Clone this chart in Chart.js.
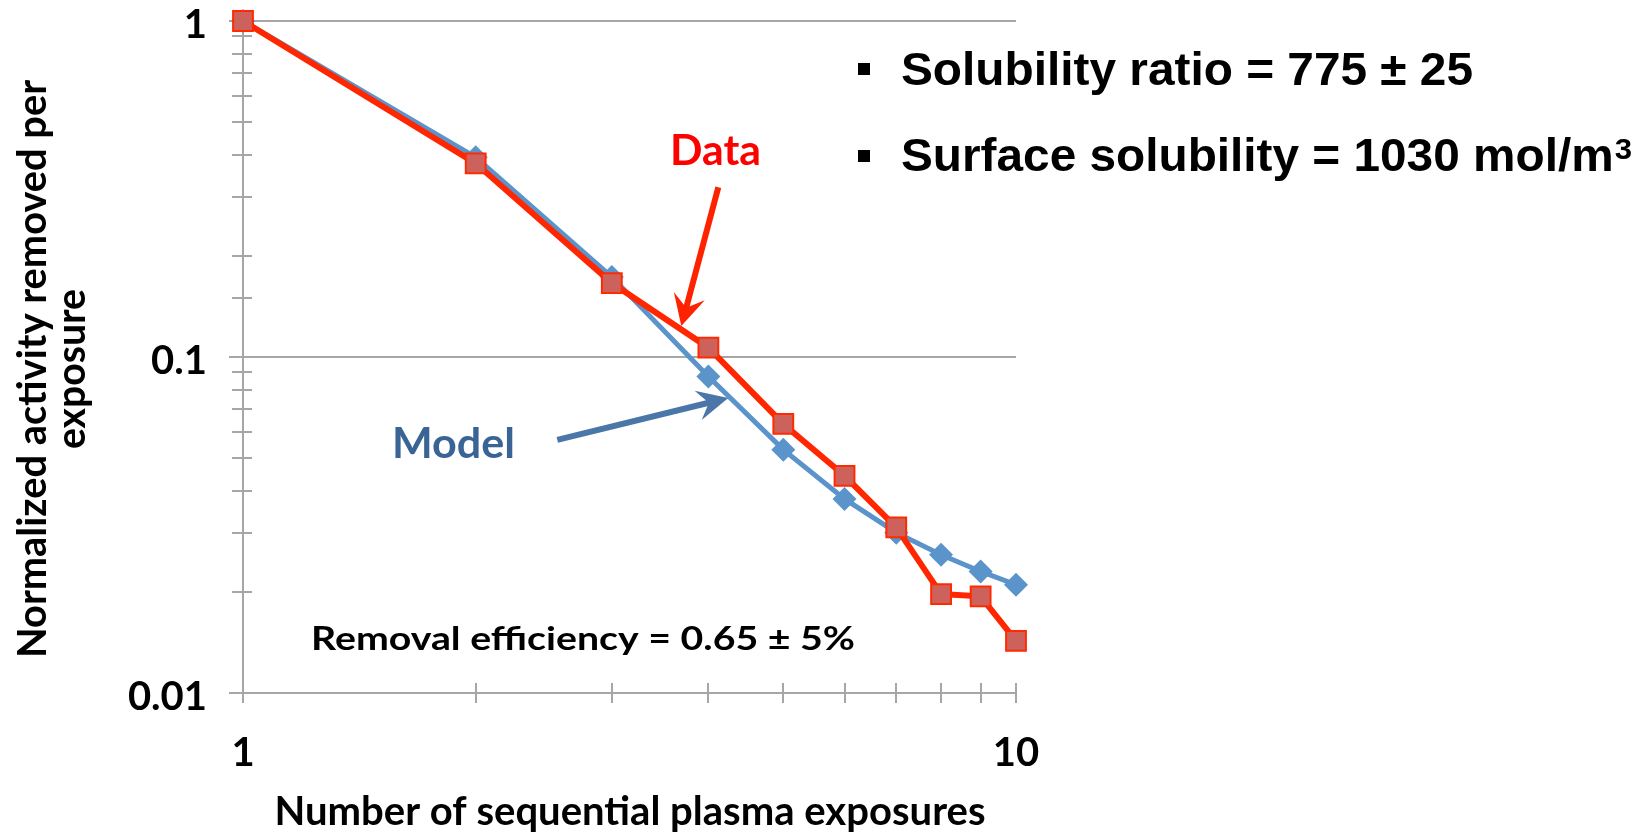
<!DOCTYPE html>
<html>
<head>
<meta charset="utf-8">
<script src="https://cdn.jsdelivr.net/npm/chart.js@4.4.1/dist/chart.umd.min.js"></script>
<style>
html,body{margin:0;padding:0;background:#ffffff;}
canvas{display:block;}
</style>
</head>
<body>
<canvas id="c" width="1648" height="833"></canvas>
<script>
// ---------------- data ----------------
const exposures   = [1, 2, 3, 4, 5, 6, 7, 8, 9, 10];
const dataValues  = [1.0, 0.377, 0.166, 0.1066, 0.0632, 0.0443, 0.0311, 0.0197, 0.0194, 0.0143];
const modelValues = [1.0, 0.393, 0.173, 0.0875, 0.053, 0.0378, 0.0300, 0.0258, 0.0230, 0.0210];
const seriesNames = ['Data', 'Model'];
const xTickLabels = [1, 10];
const yTickLabels = [0.01, 0.1, 1];

// ---------------- styles / layout ----------------
const GRID = '#a6a6a6';
const CAL = 'Lato, "Open Sans", sans-serif';
const ARL = '"Liberation Sans", Arial, sans-serif';
const isDecade = v => Math.abs(Math.log10(v) - Math.round(Math.log10(v))) < 1e-6;
const inList = (list, v) => list.some(t => Math.abs(t - v) / t < 1e-6);

// annotation arrows anchored in data space
const arrows = [
  {from: {x: 4.12, y: 0.32},  to: {x: 3.69, y: 0.1236}, color: '#ff2200', width: 6, head: 31, half: 16, notch: 12},
  {from: {x: 2.55, y: 0.0567}, to: {x: 4.244, y: 0.0755}, color: '#4a76a8', width: 6, head: 31, half: 15, notch: 11}
];

// annotation texts (pixel placement)
const notes = [
  {text: 'Data', x: 670, y: 165, w: 91, font: 'bold 42px ' + CAL, color: '#ff0000'},
  {text: 'Model', x: 392, y: 458, w: 123, font: 'bold 42px ' + CAL, color: '#3b6496'},
  {text: 'Removal efficiency = 0.65 \u00b1 5%', x: 311, y: 650, w: 544, font: 'bold 33px ' + CAL, color: '#000000'},
  {text: 'Solubility ratio = 775 \u00b1 25', x: 901, y: 85, w: 572, font: 'bold 46px ' + ARL, color: '#000000'}
];
const bullets = [{x: 858, y: 63, s: 12}, {x: 858, y: 150, s: 12}];

function fitText(ctx, text, x, y, font, color, w, align) {
  ctx.save();
  ctx.font = font;
  ctx.fillStyle = color;
  ctx.textBaseline = 'alphabetic';
  ctx.textAlign = 'left';
  const nat = ctx.measureText(text).width;
  const sx = w / nat;
  ctx.translate(align === 'center' ? x - w / 2 : x, y);
  ctx.scale(sx, 1);
  ctx.fillText(text, 0, 0);
  ctx.restore();
}

function drawArrow(ctx, p0, p1, a) {
  const dx = p1.x - p0.x, dy = p1.y - p0.y;
  const len = Math.hypot(dx, dy);
  const ux = dx / len, uy = dy / len, nx = -uy, ny = ux;
  const bx = p1.x - ux * a.head, by = p1.y - uy * a.head;
  const mx = p1.x - ux * (a.head - a.notch), my = p1.y - uy * (a.head - a.notch);
  ctx.save();
  ctx.strokeStyle = a.color; ctx.fillStyle = a.color;
  ctx.lineWidth = a.width; ctx.lineCap = 'butt';
  ctx.beginPath(); ctx.moveTo(p0.x, p0.y); ctx.lineTo(mx + ux * 2, my + uy * 2); ctx.stroke();
  ctx.beginPath();
  ctx.moveTo(p1.x, p1.y);
  ctx.lineTo(bx + nx * a.half, by + ny * a.half);
  ctx.lineTo(mx, my);
  ctx.lineTo(bx - nx * a.half, by - ny * a.half);
  ctx.closePath(); ctx.fill();
  ctx.restore();
}

const overlay = {
  id: 'overlay',
  beforeDatasetsDraw(chart) {
    const {ctx, scales: {x, y}} = chart;
    ctx.save();
    ctx.strokeStyle = GRID; ctx.lineWidth = 2;
    const ax = x.left;
    y.ticks.forEach(t => {
      const py = Math.round(y.getPixelForValue(t.value));
      const major = isDecade(t.value);
      ctx.beginPath(); ctx.moveTo(ax - (major ? 14 : 11), py); ctx.lineTo(ax + 9, py); ctx.stroke();
    });
    const ay = y.bottom;
    x.ticks.forEach(t => {
      const px = Math.round(x.getPixelForValue(t.value));
      ctx.beginPath(); ctx.moveTo(px, ay - 10); ctx.lineTo(px, ay + 10); ctx.stroke();
    });
    ctx.restore();
  },
  afterDatasetsDraw(chart) {
    const {ctx, scales: {x, y}} = chart;
    arrows.forEach(a => {
      const p0 = {x: x.getPixelForValue(a.from.x), y: y.getPixelForValue(a.from.y)};
      const p1 = {x: x.getPixelForValue(a.to.x), y: y.getPixelForValue(a.to.y)};
      drawArrow(ctx, p0, p1, a);
    });
    notes.forEach(n => fitText(ctx, n.text, n.x, n.y, n.font, n.color, n.w));
    // bullets
    ctx.save(); ctx.fillStyle = '#000';
    bullets.forEach(b => ctx.fillRect(b.x, b.y, b.s, b.s));
    ctx.restore();
    // second bullet line with superscript
    ctx.save();
    const mainTxt = 'Surface solubility = 1030 mol/m', supTxt = '3';
    const fMain = 'bold 46px ' + ARL, fSup = 'bold 30px ' + ARL;
    ctx.font = fMain; const w1 = ctx.measureText(mainTxt).width;
    ctx.font = fSup; const w2 = ctx.measureText(supTxt).width;
    const sx = 731 / (w1 + w2 + 1);
    ctx.translate(901, 171); ctx.scale(sx, 1);
    ctx.fillStyle = '#000'; ctx.textBaseline = 'alphabetic'; ctx.textAlign = 'left';
    ctx.font = fMain; ctx.fillText(mainTxt, 0, 0);
    ctx.font = fSup; ctx.fillText(supTxt, w1 + 1, -12);
    ctx.restore();
    // axis titles
    fitText(ctx, 'Number of sequential plasma exposures', 630, 825, 'bold 40px ' + CAL, '#000', 711, 'center');
    const yt = [{t: 'Normalized activity removed per', cx: 46, w: 578}, {t: 'exposure', cx: 85, w: 160}];
    yt.forEach(l => {
      ctx.save();
      ctx.translate(l.cx, 369);
      ctx.rotate(-Math.PI / 2);
      fitText(ctx, l.t, 0, 0, 'bold 40px ' + CAL, '#000', l.w, 'center');
      ctx.restore();
    });
  }
};

function noPad(s) { s.paddingTop = 0; s.paddingBottom = 0; s.paddingLeft = 0; s.paddingRight = 0; }

new Chart(document.getElementById('c'), {
  type: 'line',
  data: {
    datasets: [
      {
        label: seriesNames[0],
        data: exposures.map((v, i) => ({x: v, y: dataValues[i]})),
        borderColor: '#ff2600', borderWidth: 6, backgroundColor: '#cd625c',
        pointStyle: 'rect', pointRadius: 14, pointHoverRadius: 14,
        pointBackgroundColor: '#cd625c', pointBorderColor: '#ff2a00', pointBorderWidth: 2,
        tension: 0, clip: false
      },
      {
        label: seriesNames[1],
        data: exposures.map((v, i) => ({x: v, y: modelValues[i]})),
        borderColor: '#5b93cb', borderWidth: 5, backgroundColor: '#5b93cb',
        pointStyle: 'rectRot', pointRadius: 12, pointHoverRadius: 12,
        pointBackgroundColor: '#5b93cb', pointBorderColor: '#5b93cb', pointBorderWidth: 0,
        tension: 0, clip: false
      }
    ]
  },
  options: {
    responsive: false, animation: false, devicePixelRatio: 1,
    layout: {padding: {left: 0, top: 21, right: 632, bottom: 0}},
    plugins: {legend: {display: false}, tooltip: {enabled: false}},
    scales: {
      x: {
        type: 'logarithmic', min: 1, max: 10,
        afterBuildTicks(s) { s.ticks = exposures.map(v => ({value: v})); },
        afterFit(s) { s.height = 140; noPad(s); },
        grid: {drawOnChartArea: false, drawTicks: false},
        border: {display: true, color: GRID, width: 2},
        ticks: {
          autoSkip: false, maxRotation: 0, minRotation: 0, padding: 40,
          color: '#000', font: {family: CAL, weight: 'bold', size: 40, lineHeight: 1},
          callback: v => inList(xTickLabels, v) ? String(v) : ''
        }
      },
      y: {
        type: 'logarithmic', min: 0.01, max: 1,
        afterFit(s) { s.width = 243; noPad(s); },
        grid: {
          drawTicks: false, lineWidth: 2,
          color: c => (c.tick && isDecade(c.tick.value) && c.tick.value > 0.011) ? GRID : 'rgba(0,0,0,0)'
        },
        border: {display: true, color: GRID, width: 2},
        ticks: {
          autoSkip: false, padding: 36, labelOffset: 4,
          color: '#000', font: {family: CAL, weight: 'bold', size: 40, lineHeight: 1},
          callback: v => inList(yTickLabels, v) ? String(v) : ''
        }
      }
    }
  },
  plugins: [overlay]
});
</script>
</body>
</html>
